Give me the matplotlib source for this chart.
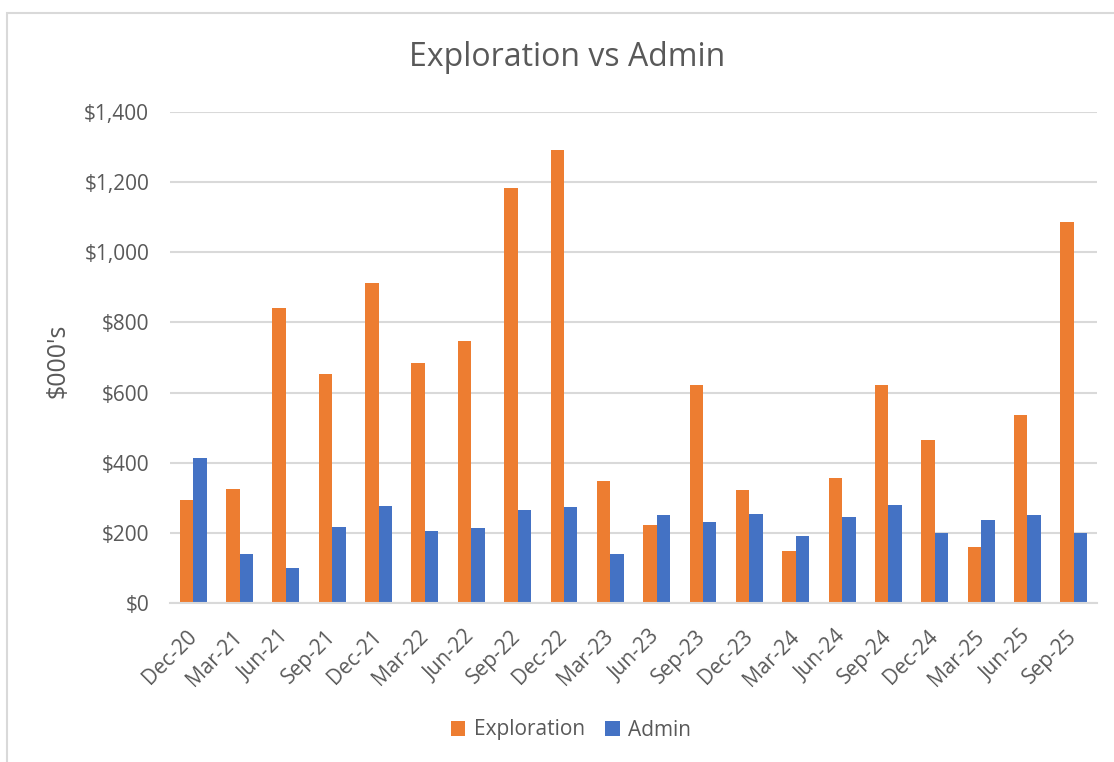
import numpy as np
import matplotlib
matplotlib.use('Agg')
import matplotlib.pyplot as plt
from matplotlib.patches import Rectangle
from matplotlib.ticker import FuncFormatter

##################################################################
matplotlib.rcParams.update({'font.family': ['Open Sans', 'DejaVu Sans']})
##################################################################
quarters = ['Dec-20', 'Mar-21', 'Jun-21', 'Sep-21', 'Dec-21', 'Mar-22', 'Jun-22',
            'Sep-22', 'Dec-22', 'Mar-23', 'Jun-23', 'Sep-23', 'Dec-23', 'Mar-24',
            'Jun-24', 'Sep-24', 'Dec-24', 'Mar-25', 'Jun-25', 'Sep-25']
exploration = [293, 326, 841, 652, 912, 684, 747, 1183, 1293, 349,
               221, 623, 323, 148, 357, 623, 465, 160, 535, 1085]
admin = [414, 141, 99, 216, 276, 204, 214, 265, 274, 141,
         251, 231, 255, 192, 245, 280, 200, 236, 251, 201]

orange = '#ed7d31'
blue = '#4472c4'
grey_txt = '#595959'
grid_c = '#d9d9d9'
##################################################################
fig = plt.figure(figsize=[11.14, 7.62], dpi=100)
ax = fig.add_axes([170/1114, 1 - 603/762, (1097 - 170)/1114, (603 - 112)/762])

x = np.arange(len(quarters))
w = 0.29
ax.bar(x - w/2, exploration, w, color=orange, label='Exploration', zorder=3)
ax.bar(x + w/2, admin, w, color=blue, label='Admin', zorder=3)

ax.set_xlim(-0.5, len(quarters) - 0.5)
ax.set_ylim(0, 1400)
ax.set_yticks(np.arange(0, 1401, 200))
ax.yaxis.set_major_formatter(FuncFormatter(lambda v, p: '${:,.0f}'.format(v)))
ax.grid(axis='y', color=grid_c, lw=1.5, zorder=0)
ax.set_axisbelow(True)

for s in ['top', 'right', 'left']:
    ax.spines[s].set_visible(False)
ax.spines['bottom'].set_color(grid_c)
ax.spines['bottom'].set_linewidth(1.5)
ax.spines['bottom'].set_zorder(4)

ax.set_xticks(x)
ax.set_xticklabels(quarters, rotation=45, ha='right', va='center', rotation_mode='anchor')
ax.tick_params(axis='both', length=0, labelsize=15, labelcolor=grey_txt)
ax.tick_params(axis='x', pad=22)
ax.tick_params(axis='y', pad=15)

ax.set_ylabel("$000's", fontsize=18, color=grey_txt)
ax.yaxis.set_label_coords((70 - 170)/927, (603 - 361)/491)

##################################################################
fig.text(567/1114, 1 - 57/762, 'Exploration vs Admin', ha='center', va='center',
         fontsize=23, color=grey_txt)

fig.legend(loc='center', bbox_to_anchor=(571/1114, 1 - 730/762), ncol=2, frameon=False,
           fontsize=15, labelcolor=grey_txt, handlelength=0.7, handleheight=0.7,
           handletextpad=0.4, columnspacing=1.0)

# chart border (only top and left visible in crop)
fig.patches.append(Rectangle((7/1114, -0.1), 1.2, 1 - 13/762 + 0.1, transform=fig.transFigure,
                             fill=False, edgecolor=grid_c, lw=1.5, zorder=0))

##################################################################
plt.savefig('out.png', dpi=100)
